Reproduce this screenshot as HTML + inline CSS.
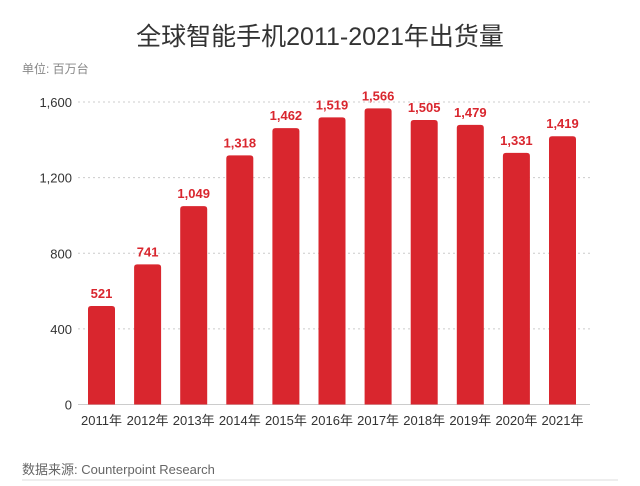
<!DOCTYPE html>
<html><head><meta charset="utf-8"><style>
body{margin:0;background:#fff;font-family:"Liberation Sans","Noto Sans CJK SC",sans-serif;}
svg text{font-family:"Liberation Sans","Noto Sans CJK SC",sans-serif;}
</style></head><body>
<svg width="640" height="481" viewBox="0 0 640 481">
<text x="320" y="45" text-anchor="middle" font-size="25" fill="#333">全球智能手机2011-2021年出货量</text>
<text x="22" y="73" font-size="12" fill="#888">单位: 百万台</text>
<g id="grid"></g><g id="bars"></g>
<text x="22" y="474" font-size="13" fill="#666">数据来源: Counterpoint Research</text>
<line x1="22" y1="480" x2="618" y2="480" stroke="#ddd"/>
</svg>
<script>
const categories=["2011年","2012年","2013年","2014年","2015年","2016年","2017年","2018年","2019年","2020年","2021年"];
const values=[521,741,1049,1318,1462,1519,1566,1505,1479,1331,1419];
const labels=["521","741","1,049","1,318","1,462","1,519","1,566","1,505","1,479","1,331","1,419"];
const ticks=[0,400,800,1200,1600];
const tickLabels=["0","400","800","1,200","1,600"];
const ns="http://www.w3.org/2000/svg";
const y=v=>404.5-v*(302.5/1600);
const x=i=>101.5+i*46.1;
function mk(t,a,p){const e=document.createElementNS(ns,t);for(const k in a)e.setAttribute(k,a[k]);p.appendChild(e);return e;}
const g=document.getElementById('grid'),b=document.getElementById('bars');
ticks.forEach((t,i)=>{
 const l=mk('line',{x1:78,x2:590,y1:y(t),y2:y(t),stroke:'#ccc','stroke-dasharray':t?'2,3':'0'},g);
 
 
 const tx=mk('text',{x:72,y:y(t)+5,'text-anchor':'end','font-size':13,fill:'#333'},g);
 tx.textContent=tickLabels[i];
 
 
});
values.forEach((v,i)=>{
 const r=mk('path',{d:`M${x(i)-13.5},404.5V${y(v)+3}q0,-3 3,-3h21q3,0 3,3V404.5Z`,fill:'#d9262e'},b);
 
 
 const t=mk('text',{x:x(i),y:y(v)-8,'text-anchor':'middle','font-size':13,'font-weight':'bold',fill:'#d9262e'},b);
 t.textContent=labels[i];
 
 
 const c=mk('text',{x:x(i),y:425,'text-anchor':'middle','font-size':13,fill:'#333'},b);
 c.textContent=categories[i];
 
 
});
</script>
</body></html>
